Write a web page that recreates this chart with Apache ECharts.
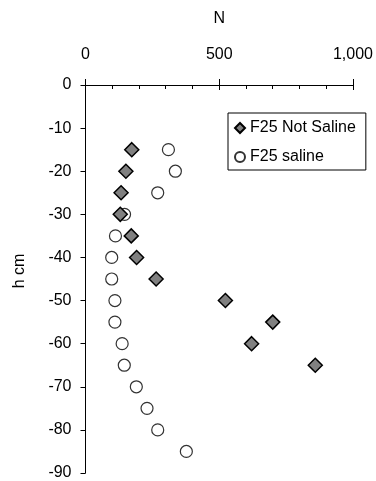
<!DOCTYPE html>
<html><head><meta charset="utf-8">
<script src="https://cdn.jsdelivr.net/npm/echarts@6/dist/echarts.min.js"></script>
<style>html,body{margin:0;padding:0;background:#fff}#c{width:376px;height:481px}</style>
</head><body><div id="c"></div>
<script>
const depthNotSaline = [-15, -20, -25, -30, -35, -40, -45, -50, -55, -60, -65];
const nNotSaline = [173, 151, 133, 130, 171, 191, 264, 523, 700, 621, 859];
const depthSaline = [-15, -20, -25, -30, -35, -40, -45, -50, -55, -60, -65, -70, -75, -80, -85];
const nSaline = [310, 336, 270, 146, 112, 98, 98, 110, 110, 137, 145, 190, 230, 270, 377];
const xTicks = [0, 500, 1000];
const yTicks = [0, -10, -20, -30, -40, -50, -60, -70, -80, -90];
const seriesNames = ['F25 Not Saline', 'F25 saline'];

const font = 'Liberation Sans, Arial, sans-serif';
const chart = echarts.init(document.getElementById('c'), null, {renderer: 'canvas'});
chart.setOption({
  animation: false,
  grid: {left: 85.5, right: 17.5, top: 85, bottom: 6},
  xAxis: [{
    type: 'value', position: 'top', min: xTicks[0], max: xTicks[xTicks.length - 1], interval: 500,
    name: 'N', nameLocation: 'middle', nameGap: 58,
    nameTextStyle: {fontFamily: font, fontSize: 16, color: '#000'},
    axisLine: {show: true, onZero: false, lineStyle: {color: '#000', width: 1}},
    axisTick: {show: true, inside: false, length: 6, lineStyle: {color: '#000'}},
    axisLabel: {fontFamily: font, fontSize: 16, color: '#000', margin: 22,
      formatter: v => v.toLocaleString('en-US')},
    splitLine: {show: false}
  }, {
    type: 'value', position: 'top', min: xTicks[0], max: xTicks[xTicks.length - 1], interval: 500,
    axisLine: {show: false},
    axisTick: {show: true, inside: true, length: 5, lineStyle: {color: '#000'}},
    minorTick: {show: true, splitNumber: 5, length: 4, lineStyle: {color: '#000'}},
    axisLabel: {show: false},
    splitLine: {show: false}
  }],
  yAxis: {
    type: 'value', min: yTicks[yTicks.length - 1], max: yTicks[0], interval: 10,
    name: 'h cm', nameLocation: 'middle', nameGap: 58, nameRotate: 90,
    nameTextStyle: {fontFamily: font, fontSize: 16, color: '#000', padding: [0, 0, 0, 16]},
    axisLine: {show: true, onZero: false, lineStyle: {color: '#000', width: 1}},
    axisTick: {show: true, inside: false, length: 5, lineStyle: {color: '#000'}},
    axisLabel: {fontFamily: font, fontSize: 16, color: '#000', margin: 14},
    splitLine: {show: false}
  },
  legend: {
    data: seriesNames, orient: 'vertical', left: 228, top: 113,
    backgroundColor: '#fff',
    borderColor: '#000', borderWidth: 1, padding: [6, 10, 4, 6], itemGap: 11,
    itemWidth: 10, itemHeight: 10,
    textStyle: {fontFamily: font, fontSize: 16, color: '#000', lineHeight: 18}
  },
  series: [{
    name: seriesNames[0], type: 'scatter', symbol: 'diamond', symbolSize: 14, z: 4,
    itemStyle: {color: '#808080', borderColor: '#000', borderWidth: 1.5, opacity: 1},
    data: nNotSaline.map((v, i) => [v, depthNotSaline[i]])
  }, {
    name: seriesNames[1], type: 'scatter', symbol: 'circle', symbolSize: 12, z: 3,
    itemStyle: {color: '#fff', borderColor: '#333', borderWidth: 1.2, opacity: 1},
    data: nSaline.map((v, i) => [v, depthSaline[i]])
  }]
});
</script></body></html>
